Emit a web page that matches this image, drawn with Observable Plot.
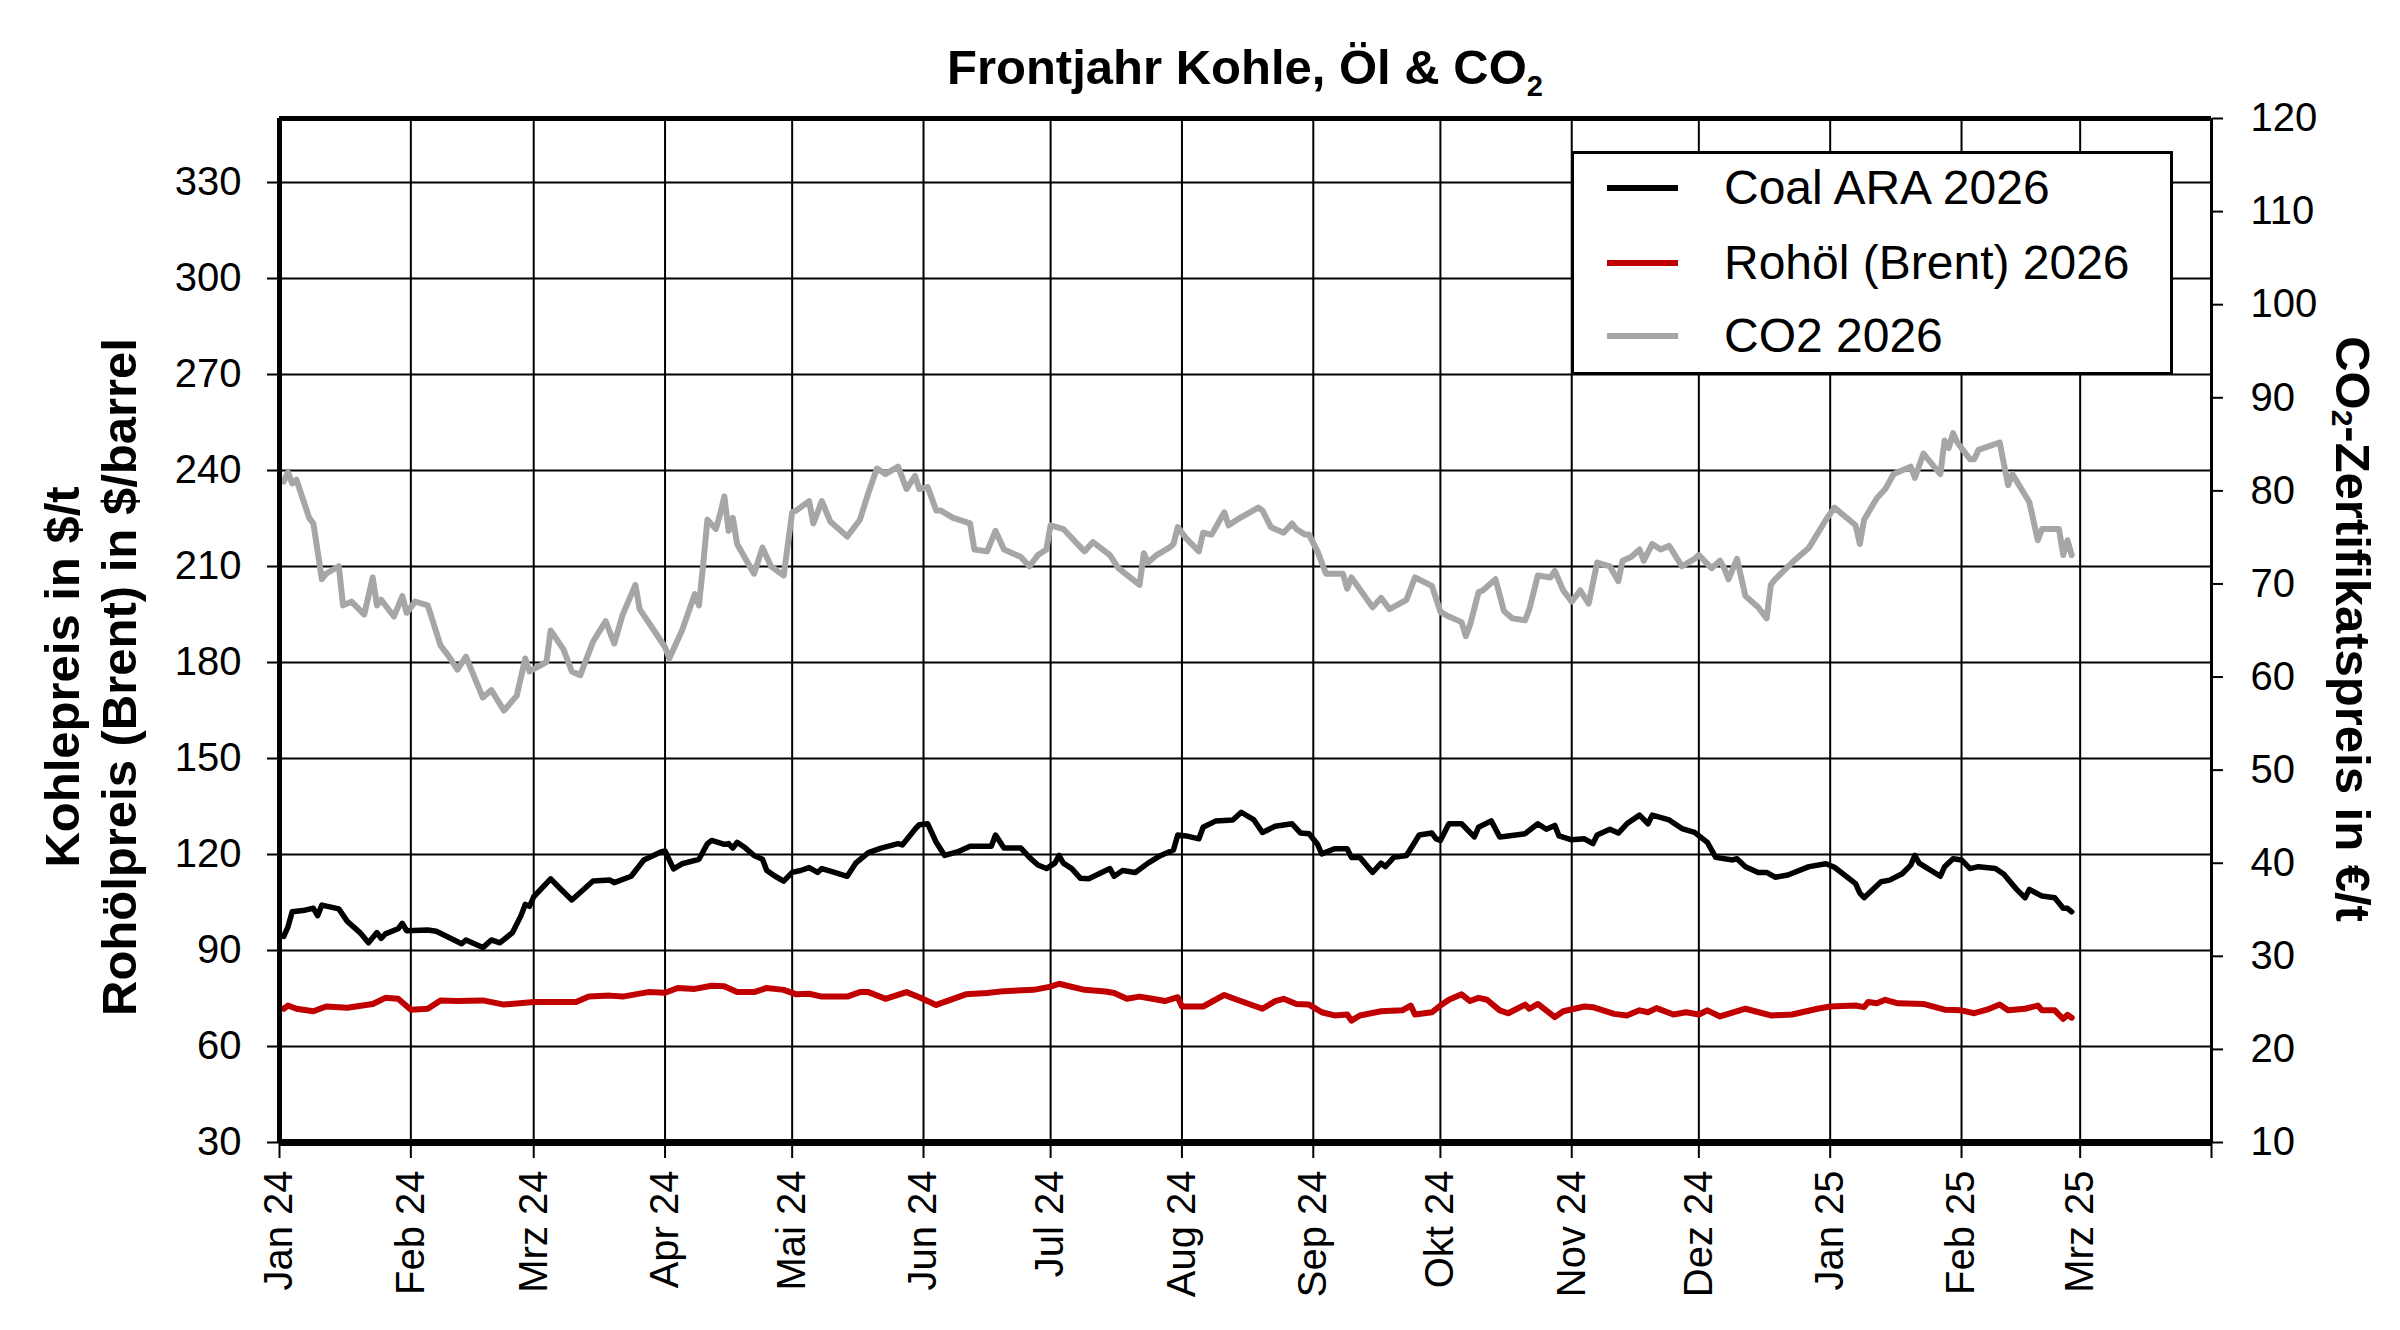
<!DOCTYPE html>
<html><head><meta charset="utf-8">
<script src="https://cdn.jsdelivr.net/npm/d3@7"></script>
<script src="https://cdn.jsdelivr.net/npm/@observablehq/plot@0.6"></script>
<style>
html,body{margin:0;padding:0;background:#fff;}
#wrap{position:relative;width:2400px;height:1330px;font-family:'Liberation Sans',Arial,sans-serif;color:#000;overflow:hidden;}
#title{position:absolute;left:279px;width:1932px;top:36px;height:62px;line-height:62px;text-align:center;font-weight:bold;font-size:49px;}
#title sub{font-size:29px;vertical-align:baseline;position:relative;top:12px;}
#chart{position:absolute;left:0;top:100px;}
#legend{position:absolute;left:1571px;top:151px;width:602px;height:224px;box-sizing:border-box;border:3px solid #000;background:#fff;}
.entry{position:absolute;left:0;height:60px;line-height:60px;font-size:48px;white-space:nowrap;}
.sw{position:absolute;left:33px;top:27px;width:71px;height:6px;}
.lab{position:absolute;left:150px;top:0;}
</style></head>
<body><div id="wrap"><div id="title">Frontjahr Kohle, Öl &amp; CO<sub>2</sub></div><div id="chart"></div><div id="legend"></div></div>
<script>
const monthLabels = ["Jan","Feb","Mrz","Apr","Mai","Jun","Jul","Aug","Sep","Okt","Nov","Dez"];
const leftTicks = [30,60,90,120,150,180,210,240,270,300,330];
const rightTicks = [10,20,30,40,50,60,70,80,90,100,110,120];
const legendLabels = ["Coal ARA 2026","Rohöl (Brent) 2026","CO2 2026"];
const lineColors = ["#000000","#C00000","#A6A6A6"];

const coalSeries = [
["2024-01-02",94.4],["2024-01-03",97.4],["2024-01-04",102.1],["2024-01-07",102.6],["2024-01-09",103.2],["2024-01-10",100.9],["2024-01-11",104.2],["2024-01-15",103.0],["2024-01-17",99.1],["2024-01-20",95.6],["2024-01-22",92.4],["2024-01-24",95.6],["2024-01-25",93.8],["2024-01-26",95.2],["2024-01-29",96.8],["2024-01-30",98.5],["2024-01-31",96.2],
["2024-02-05",96.4],["2024-02-07",96.0],["2024-02-13",92.1],["2024-02-14",93.3],["2024-02-18",90.9],["2024-02-20",93.3],["2024-02-22",92.4],["2024-02-25",95.6],["2024-02-27",100.9],["2024-02-28",104.4],["2024-02-29",103.8],
["2024-03-01",106.8],["2024-03-05",112.4],["2024-03-07",109.7],["2024-03-10",105.8],["2024-03-15",111.7],["2024-03-19",112.0],["2024-03-20",111.2],["2024-03-24",113.2],["2024-03-27",118.3],["2024-03-31",120.8],
["2024-04-01",121.1],["2024-04-03",115.5],["2024-04-05",117.1],["2024-04-09",118.5],["2024-04-11",123.4],["2024-04-12",124.4],["2024-04-15",123.2],["2024-04-16",123.4],["2024-04-17",122.0],["2024-04-18",123.8],["2024-04-20",122.0],["2024-04-22",119.7],["2024-04-24",118.5],["2024-04-25",115.0],["2024-04-27",113.2],["2024-04-29",111.7],
["2024-05-01",114.4],["2024-05-03",115.0],["2024-05-05",115.9],["2024-05-07",114.4],["2024-05-08",115.6],["2024-05-11",114.4],["2024-05-14",113.2],["2024-05-16",117.3],["2024-05-19",120.6],["2024-05-22",122.0],["2024-05-26",123.4],["2024-05-27",123.0],["2024-05-30",127.9],["2024-05-31",129.3],
["2024-06-02",129.6],["2024-06-04",123.8],["2024-06-06",119.7],["2024-06-09",120.8],["2024-06-12",122.6],["2024-06-17",122.6],["2024-06-18",126.1],["2024-06-20",122.0],["2024-06-24",122.0],["2024-06-26",119.1],["2024-06-28",116.7],["2024-06-30",115.6],
["2024-07-02",117.3],["2024-07-03",119.7],["2024-07-04",117.3],["2024-07-06",115.6],["2024-07-08",112.6],["2024-07-10",112.4],["2024-07-15",115.6],["2024-07-16",113.2],["2024-07-18",115.0],["2024-07-21",114.4],["2024-07-24",117.3],["2024-07-27",119.7],["2024-07-30",121.4],["2024-07-31",126.1],
["2024-08-02",125.8],["2024-08-05",124.9],["2024-08-06",128.5],["2024-08-09",130.5],["2024-08-13",130.8],["2024-08-15",133.2],["2024-08-18",130.8],["2024-08-20",126.9],["2024-08-23",128.8],["2024-08-27",129.6],["2024-08-29",126.7],["2024-08-31",126.5],
["2024-09-02",123.2],["2024-09-03",120.2],["2024-09-06",121.8],["2024-09-09",121.8],["2024-09-10",119.1],["2024-09-12",119.1],["2024-09-15",114.4],["2024-09-17",117.3],["2024-09-18",116.2],["2024-09-20",119.1],["2024-09-23",119.7],["2024-09-26",126.1],["2024-09-29",126.7],["2024-09-30",124.9],
["2024-10-01",124.4],["2024-10-03",129.6],["2024-10-06",129.6],["2024-10-09",125.5],["2024-10-10",128.5],["2024-10-13",130.5],["2024-10-15",125.5],["2024-10-17",125.8],["2024-10-21",126.5],["2024-10-24",129.6],["2024-10-26",127.9],["2024-10-28",129.1],["2024-10-29",125.8],
["2024-11-01",124.6],["2024-11-04",124.9],["2024-11-06",123.4],["2024-11-07",126.1],["2024-11-10",127.9],["2024-11-12",126.7],["2024-11-14",129.6],["2024-11-17",132.3],["2024-11-19",129.6],["2024-11-20",132.3],["2024-11-24",130.8],["2024-11-27",128.1],["2024-11-30",126.9],
["2024-12-03",123.8],["2024-12-05",119.1],["2024-12-09",118.3],["2024-12-10",118.7],["2024-12-12",116.2],["2024-12-15",114.4],["2024-12-17",114.4],["2024-12-19",112.9],["2024-12-22",113.6],["2024-12-27",116.2],["2024-12-31",117.1],
["2025-01-02",116.0],["2025-01-03",115.0],["2025-01-07",110.9],["2025-01-08",107.9],["2025-01-09",106.5],["2025-01-13",111.5],["2025-01-15",112.0],["2025-01-18",114.0],["2025-01-20",116.7],["2025-01-21",119.7],["2025-01-22",117.3],["2025-01-27",113.2],["2025-01-28",116.2],["2025-01-30",118.7],
["2025-02-01",118.3],["2025-02-03",115.6],["2025-02-05",116.2],["2025-02-09",115.6],["2025-02-11",113.8],["2025-02-14",109.1],["2025-02-16",106.5],["2025-02-17",109.1],["2025-02-20",107.0],["2025-02-23",106.5],["2025-02-25",103.2],["2025-02-26",103.2],["2025-02-27",102.1]
];

const brentSeries = [
["2024-01-02",71.8],["2024-01-03",72.8],["2024-01-05",71.8],["2024-01-09",71.0],["2024-01-12",72.5],["2024-01-17",72.1],["2024-01-23",73.3],["2024-01-26",75.2],["2024-01-29",74.9],
["2024-02-01",71.5],["2024-02-05",71.8],["2024-02-08",74.4],["2024-02-12",74.2],["2024-02-18",74.4],["2024-02-23",73.1],
["2024-03-01",73.9],["2024-03-11",73.9],["2024-03-14",75.6],["2024-03-19",75.9],["2024-03-22",75.6],["2024-03-28",77.0],
["2024-04-01",76.8],["2024-04-04",78.3],["2024-04-08",78.0],["2024-04-12",79.0],["2024-04-15",78.8],["2024-04-18",77.0],["2024-04-22",77.0],["2024-04-25",78.3],["2024-04-29",77.7],
["2024-05-02",76.3],["2024-05-05",76.5],["2024-05-08",75.6],["2024-05-14",75.6],["2024-05-17",77.0],["2024-05-19",77.0],["2024-05-23",74.9],["2024-05-28",77.0],["2024-05-31",75.4],
["2024-06-04",73.0],["2024-06-07",74.4],["2024-06-11",76.3],["2024-06-16",76.7],["2024-06-20",77.3],["2024-06-27",77.7],
["2024-07-01",78.7],["2024-07-03",79.6],["2024-07-09",77.7],["2024-07-14",77.2],["2024-07-16",76.7],["2024-07-19",74.9],["2024-07-22",75.6],["2024-07-25",74.9],["2024-07-28",74.2],["2024-07-31",75.4],
["2024-08-01",72.5],["2024-08-06",72.5],["2024-08-11",76.1],["2024-08-14",74.6],["2024-08-20",71.8],["2024-08-23",74.2],["2024-08-25",74.9],["2024-08-28",73.3],["2024-08-31",73.1],
["2024-09-03",70.7],["2024-09-06",69.7],["2024-09-09",70.0],["2024-09-10",68.1],["2024-09-12",69.7],["2024-09-17",71.0],["2024-09-22",71.3],["2024-09-24",72.8],["2024-09-25",70.0],["2024-09-29",70.7],
["2024-10-01",72.8],["2024-10-03",74.6],["2024-10-06",76.3],["2024-10-08",74.2],["2024-10-10",75.2],["2024-10-12",74.6],["2024-10-15",71.3],["2024-10-17",70.4],["2024-10-21",73.1],["2024-10-22",71.8],["2024-10-24",73.3],["2024-10-28",69.2],["2024-10-30",71.0],
["2024-11-04",72.5],["2024-11-06",72.3],["2024-11-11",70.2],["2024-11-14",69.7],["2024-11-17",71.3],["2024-11-19",70.7],["2024-11-21",72.0],["2024-11-25",70.0],["2024-11-28",70.7],
["2024-12-01",70.0],["2024-12-03",71.3],["2024-12-06",69.4],["2024-12-12",71.8],["2024-12-18",69.7],["2024-12-23",70.0],["2024-12-29",71.8],
["2025-01-01",72.5],["2025-01-07",72.8],["2025-01-09",72.3],["2025-01-10",73.9],["2025-01-12",73.5],["2025-01-14",74.6],["2025-01-17",73.5],["2025-01-23",73.3],["2025-01-28",71.5],
["2025-02-01",71.3],["2025-02-04",70.4],["2025-02-07",71.5],["2025-02-10",73.1],["2025-02-12",71.3],["2025-02-16",71.8],["2025-02-19",72.8],["2025-02-20",71.3],["2025-02-23",71.3],["2025-02-25",68.6],["2025-02-26",69.9],["2025-02-27",69.0]
];

const co2Series = [
["2024-01-02",81.0],["2024-01-03",82.0],["2024-01-04",80.8],["2024-01-05",81.2],["2024-01-08",77.1],["2024-01-09",76.5],["2024-01-11",70.5],["2024-01-12",71.1],["2024-01-15",71.9],["2024-01-16",67.7],["2024-01-18",68.1],["2024-01-21",66.7],["2024-01-23",70.7],["2024-01-24",67.7],["2024-01-25",68.3],["2024-01-28",66.5],["2024-01-30",68.7],["2024-01-31",66.9],
["2024-02-02",68.1],["2024-02-05",67.7],["2024-02-08",63.4],["2024-02-10",62.2],["2024-02-12",60.8],["2024-02-14",62.2],["2024-02-18",57.8],["2024-02-20",58.6],["2024-02-23",56.4],["2024-02-26",58.0],["2024-02-28",62.0],["2024-02-29",60.6],
["2024-03-04",61.6],["2024-03-05",65.0],["2024-03-08",63.0],["2024-03-10",60.6],["2024-03-12",60.2],["2024-03-15",63.8],["2024-03-18",66.0],["2024-03-20",63.6],["2024-03-22",66.7],["2024-03-25",69.9],["2024-03-26",67.3],["2024-03-30",64.6],
["2024-04-01",63.2],["2024-04-02",62.0],["2024-04-05",65.0],["2024-04-08",68.9],["2024-04-09",67.7],["2024-04-10",72.1],["2024-04-11",76.9],["2024-04-13",75.9],["2024-04-14",77.5],["2024-04-15",79.4],["2024-04-16",75.7],["2024-04-17",77.1],["2024-04-18",74.3],["2024-04-22",71.1],["2024-04-24",73.9],["2024-04-26",71.9],["2024-04-29",70.9],
["2024-05-01",77.7],["2024-05-02",77.9],["2024-05-05",78.9],["2024-05-06",76.5],["2024-05-08",78.9],["2024-05-10",76.7],["2024-05-13",75.5],["2024-05-14",75.1],["2024-05-17",76.9],["2024-05-19",79.8],["2024-05-21",82.4],["2024-05-23",81.8],["2024-05-26",82.6],["2024-05-28",80.2],["2024-05-30",81.6],["2024-05-31",80.2],
["2024-06-02",80.4],["2024-06-04",77.9],["2024-06-05",77.9],["2024-06-08",77.1],["2024-06-12",76.5],["2024-06-13",73.7],["2024-06-16",73.5],["2024-06-18",75.7],["2024-06-20",73.7],["2024-06-24",72.9],["2024-06-26",71.9],["2024-06-28",73.1],["2024-06-30",73.7],
["2024-07-01",76.3],["2024-07-04",75.9],["2024-07-09",73.5],["2024-07-11",74.5],["2024-07-15",73.1],["2024-07-17",71.7],["2024-07-22",69.9],["2024-07-23",73.3],["2024-07-24",72.3],["2024-07-26",73.1],["2024-07-29",73.9],["2024-07-30",74.3],["2024-07-31",76.1],
["2024-08-02",74.9],["2024-08-05",73.5],["2024-08-06",75.5],["2024-08-08",75.3],["2024-08-11",77.7],["2024-08-12",76.3],["2024-08-14",76.9],["2024-08-19",78.2],["2024-08-20",77.9],["2024-08-22",76.1],["2024-08-25",75.5],["2024-08-27",76.5],["2024-08-28",75.9],["2024-08-30",75.3],["2024-08-31",75.3],
["2024-09-02",73.5],["2024-09-04",71.1],["2024-09-06",71.1],["2024-09-08",71.1],["2024-09-09",69.5],["2024-09-10",70.7],["2024-09-15",67.5],["2024-09-17",68.5],["2024-09-19",67.3],["2024-09-23",68.3],["2024-09-25",70.7],["2024-09-29",69.8],
["2024-10-01",67.0],["2024-10-03",66.5],["2024-10-06",65.9],["2024-10-07",64.4],["2024-10-08",65.6],["2024-10-10",69.1],["2024-10-11",69.3],["2024-10-14",70.5],["2024-10-16",67.1],["2024-10-18",66.3],["2024-10-21",66.1],["2024-10-22",67.3],["2024-10-24",70.9],["2024-10-27",70.7],["2024-10-28",71.4],["2024-10-30",69.3],
["2024-11-01",68.1],["2024-11-03",69.3],["2024-11-05",67.9],["2024-11-07",72.3],["2024-11-10",71.9],["2024-11-11",71.1],["2024-11-12",70.3],["2024-11-13",72.5],["2024-11-15",72.9],["2024-11-17",73.7],["2024-11-18",72.5],["2024-11-20",74.3],["2024-11-22",73.7],["2024-11-24",74.1],["2024-11-27",71.9],["2024-11-30",72.7],
["2024-12-01",73.1],["2024-12-04",71.7],["2024-12-06",72.5],["2024-12-07",71.7],["2024-12-08",70.5],["2024-12-10",72.7],["2024-12-12",68.7],["2024-12-15",67.5],["2024-12-17",66.3],["2024-12-18",69.9],["2024-12-19",70.5],["2024-12-23",72.3],["2024-12-27",73.9],["2024-12-31",76.9],
["2025-01-02",78.2],["2025-01-07",76.3],["2025-01-08",74.3],["2025-01-09",76.9],["2025-01-12",79.2],["2025-01-14",80.2],["2025-01-16",81.8],["2025-01-20",82.6],["2025-01-21",81.4],["2025-01-23",84.0],["2025-01-27",81.8],["2025-01-28",85.4],["2025-01-29",84.6],["2025-01-30",86.2],["2025-01-31",85.2],
["2025-02-03",83.4],["2025-02-04",83.4],["2025-02-05",84.4],["2025-02-10",85.2],["2025-02-12",80.6],["2025-02-13",81.8],["2025-02-17",78.8],["2025-02-19",74.7],["2025-02-20",75.9],["2025-02-24",75.9],["2025-02-25",73.1],["2025-02-26",74.7],["2025-02-27",73.1]
];

const parse = d3.utcParse("%Y-%m-%d");
const toRows = arr => arr.map(([d, v]) => ({date: parse(d), value: v}));
const coalRows = toRows(coalSeries);
const brentRows = toRows(brentSeries);
const co2Rows = toRows(co2Series);

// CO2 uses the right axis (10–120), mapped onto the left scale (30–350)
const toLeft = v => 30 + (v - 10) * 320 / 110;
const fromLeft = y => Math.round((y - 30) * 110 / 320 + 10);

const xStart = new Date(Date.UTC(2024, 0, 1));
const xEnd = new Date(Date.UTC(2025, 3, 1));
const monthTicks = d3.utcMonths(xStart, new Date(Date.UTC(2025, 3, 2)));
const fmtMonth = d => d < xEnd ? monthLabels[d.getUTCMonth()] + " " + String(d.getUTCFullYear()).slice(2) : "";

const chart = Plot.plot({
  width: 2400, height: 1230,
  marginTop: 18, marginBottom: 188, marginLeft: 279, marginRight: 189,
  x: {type: "utc", domain: [xStart, xEnd]},
  y: {domain: [30, 350]},
  style: {fontFamily: "'Liberation Sans', Arial, sans-serif", fontSize: "40px", color: "#000", background: "transparent", overflow: "visible"},
  marks: [
    Plot.ruleY(leftTicks.slice(1), {stroke: "#000", strokeWidth: 2}),
    Plot.ruleX(monthTicks.slice(1, -1), {stroke: "#000", strokeWidth: 2}),
    Plot.line(co2Rows, {x: "date", y: d => toLeft(d.value), stroke: lineColors[2], strokeWidth: 6}),
    Plot.line(brentRows, {x: "date", y: "value", stroke: lineColors[1], strokeWidth: 6}),
    Plot.line(coalRows, {x: "date", y: "value", stroke: lineColors[0], strokeWidth: 5.5}),
    Plot.ruleY([30], {stroke: "#000", strokeWidth: 7}),
    Plot.ruleY([350], {stroke: "#000", strokeWidth: 5}),
    Plot.ruleX([xStart], {stroke: "#000", strokeWidth: 5}),
    Plot.ruleX([xEnd], {stroke: "#000", strokeWidth: 3}),
    Plot.axisY({ticks: leftTicks, anchor: "left", tickSize: 12, tickPadding: 26, strokeWidth: 2, fontSize: 40, label: null, tickFormat: d => String(d)}),
    Plot.axisY({ticks: rightTicks.map(toLeft), anchor: "right", tickSize: 11, tickPadding: 28, strokeWidth: 2, fontSize: 40, label: null, tickFormat: fromLeft}),
    Plot.axisX({ticks: monthTicks, anchor: "bottom", tickSize: 16, tickPadding: 12, tickRotate: -90, strokeWidth: 2, fontSize: 40, label: null, tickFormat: fmtMonth})
  ]
});
document.getElementById("chart").appendChild(chart);

// axis titles
const svg = d3.select(chart);
const g = svg.append("g").attr("font-weight", "bold").attr("font-size", 49).attr("fill", "#000")
  .attr("font-family", "'Liberation Sans', Arial, sans-serif");
g.append("text").attr("transform", "translate(62,577) rotate(-90)").attr("text-anchor", "middle")
  .attr("dominant-baseline", "central").text("Kohlepreis in $/t");
g.append("text").attr("transform", "translate(119,577) rotate(-90)").attr("text-anchor", "middle")
  .attr("dominant-baseline", "central").text("Rohölpreis (Brent) in $/barrel");
const rt = g.append("text").attr("transform", "translate(2353,529) rotate(90)").attr("text-anchor", "middle")
  .attr("dominant-baseline", "central");
rt.append("tspan").text("CO");
rt.append("tspan").attr("font-size", 30).attr("dy", 10).text("2");
rt.append("tspan").attr("dy", -10).text("-Zertifikatspreis in €/t");

// legend
const legend = document.getElementById("legend");
const entryTops = [4, 79, 152];
legendLabels.forEach((name, i) => {
  const e = document.createElement("div");
  e.className = "entry";
  e.style.top = entryTops[i] + "px";
  const sw = document.createElement("div");
  sw.className = "sw";
  sw.style.background = lineColors[i];
  const lab = document.createElement("div");
  lab.className = "lab";
  lab.textContent = name;
  e.appendChild(sw); e.appendChild(lab);
  legend.appendChild(e);
});
</script></body></html>
